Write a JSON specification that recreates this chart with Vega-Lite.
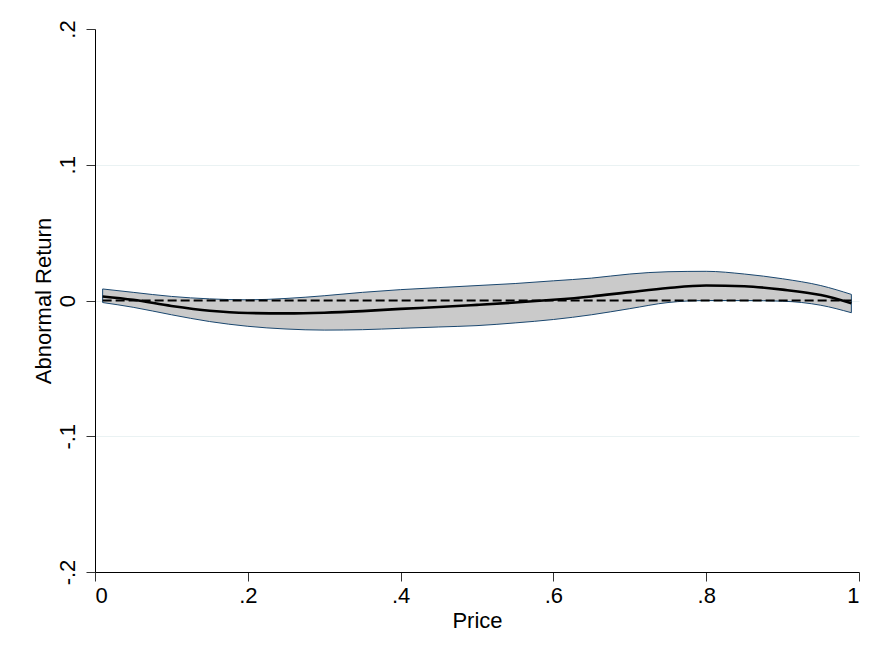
{
  "$schema": "https://vega.github.io/schema/vega-lite/v6.json",
  "autosize": "none",
  "width": 764,
  "height": 543,
  "padding": {"left": 95, "top": 29, "right": 11, "bottom": 81},
  "background": "white",
  "config": {
    "view": {"stroke": null},
    "font": "Liberation Sans",
    "axis": {
      "labelFont": "Liberation Sans",
      "titleFont": "Liberation Sans",
      "labelFontSize": 22,
      "titleFontSize": 22,
      "titleFontWeight": "normal",
      "labelColor": "#000000",
      "titleColor": "#000000",
      "domainColor": "#000000",
      "domainWidth": 1,
      "tickColor": "#333333",
      "tickSize": 9,
      "tickWidth": 1
    }
  },
  "data": {
    "values": [
      {"price": 0.01, "fit": 0.0030, "lo": -0.0015, "hi": 0.0085},
      {"price": 0.05, "fit": 0.0005, "lo": -0.0050, "hi": 0.0060},
      {"price": 0.10, "fit": -0.0040, "lo": -0.0105, "hi": 0.0030},
      {"price": 0.15, "fit": -0.0075, "lo": -0.0155, "hi": 0.0012},
      {"price": 0.20, "fit": -0.0092, "lo": -0.0190, "hi": 0.0005},
      {"price": 0.25, "fit": -0.0095, "lo": -0.0210, "hi": 0.0015},
      {"price": 0.30, "fit": -0.0090, "lo": -0.0218, "hi": 0.0035},
      {"price": 0.35, "fit": -0.0078, "lo": -0.0215, "hi": 0.0060},
      {"price": 0.40, "fit": -0.0062, "lo": -0.0205, "hi": 0.0080},
      {"price": 0.45, "fit": -0.0048, "lo": -0.0195, "hi": 0.0095},
      {"price": 0.50, "fit": -0.0032, "lo": -0.0185, "hi": 0.0110},
      {"price": 0.55, "fit": -0.0015, "lo": -0.0165, "hi": 0.0125},
      {"price": 0.60, "fit": 0.0005, "lo": -0.0140, "hi": 0.0145},
      {"price": 0.65, "fit": 0.0030, "lo": -0.0105, "hi": 0.0165},
      {"price": 0.70, "fit": 0.0062, "lo": -0.0060, "hi": 0.0195},
      {"price": 0.75, "fit": 0.0092, "lo": -0.0015, "hi": 0.0212},
      {"price": 0.80, "fit": 0.0110, "lo": 0.0000, "hi": 0.0215},
      {"price": 0.85, "fit": 0.0105, "lo": 0.0000, "hi": 0.0195},
      {"price": 0.90, "fit": 0.0080, "lo": -0.0005, "hi": 0.0160},
      {"price": 0.95, "fit": 0.0040, "lo": -0.0035, "hi": 0.0110},
      {"price": 0.99, "fit": -0.0020, "lo": -0.0090, "hi": 0.0045}
    ]
  },
  "encoding": {
    "x": {
      "field": "price",
      "type": "quantitative",
      "title": "Price",
      "scale": {"domain": [0, 1], "nice": false, "zero": false},
      "axis": {
        "values": [0, 0.2, 0.4, 0.6, 0.8, 1],
        "labelExpr": "datum.value == 0 ? '0' : datum.value == 1 ? '1' : (datum.value < 0 ? '-' : '') + '.' + round(abs(datum.value) * 10)",
        "grid": false,
        "labelPadding": 4,
        "titlePadding": 4
      }
    }
  },
  "layer": [
    {
      "mark": {"type": "area", "interpolate": "monotone", "fill": "#cacaca", "fillOpacity": 1, "stroke": "#1a476f", "strokeWidth": 1},
      "encoding": {
        "y": {
          "field": "lo",
          "type": "quantitative",
          "title": "Abnormal Return",
          "scale": {"domain": [-0.2, 0.2], "nice": false, "zero": false},
          "axis": {
            "values": [-0.2, -0.1, 0, 0.1, 0.2],
            "labelExpr": "datum.value == 0 ? '0' : (datum.value < 0 ? '-' : '') + '.' + round(abs(datum.value) * 10)",
            "labelAngle": 270,
            "labelAlign": "center",
            "labelBaseline": "bottom",
            "labelPadding": 7,
            "titlePadding": 1,
            "grid": true,
            "gridColor": "#eaf2f3",
            "gridWidth": 1,
            "gridOpacity": {"condition": {"test": "abs(datum.value) > 0.15", "value": 0}, "value": 1}
          }
        },
        "y2": {"field": "hi"}
      }
    },
    {
      "mark": {"type": "line", "color": "#000000", "strokeWidth": 1.8, "strokeDash": [9, 4]},
      "encoding": {
        "y": {"datum": 0, "type": "quantitative"}
      }
    },
    {
      "mark": {"type": "line", "interpolate": "monotone", "color": "#000000", "strokeWidth": 2.6},
      "encoding": {
        "y": {"field": "fit", "type": "quantitative"}
      }
    }
  ]
}
